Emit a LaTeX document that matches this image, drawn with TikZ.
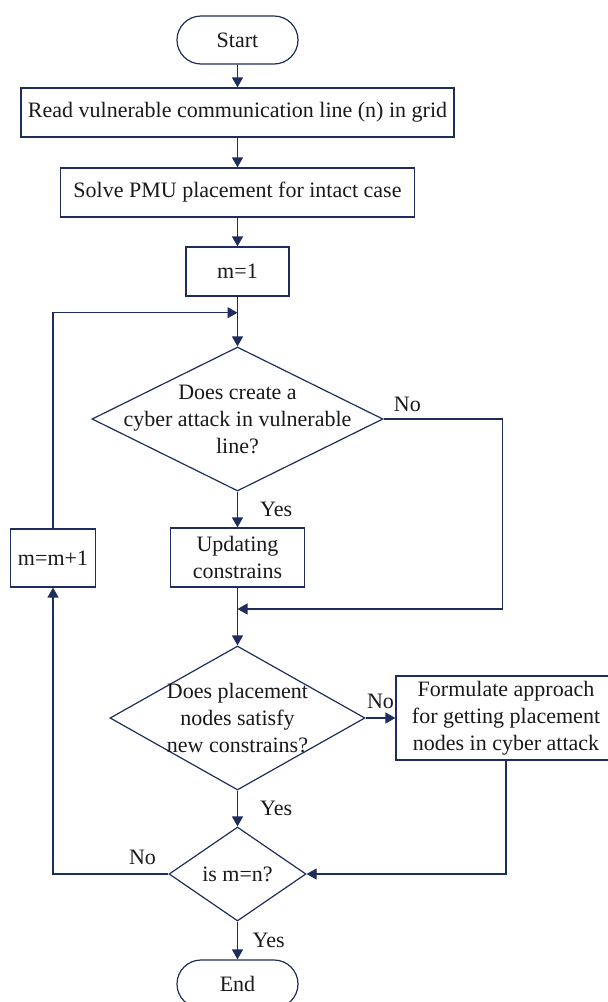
\documentclass[tikz,border=0pt]{standalone}
\usepackage{fontspec}
\setmainfont{Liberation Serif}
\usetikzlibrary{arrows.meta,shapes.geometric}
\definecolor{navyline}{RGB}{31,45,94}
\definecolor{tinta}{RGB}{25,25,25}
\tikzset{
  terminal/.style={
    rounded corners=24pt,
    draw=navyline,
    line width=1.2pt,
    minimum width=121pt,
    minimum height=48pt,
    inner sep=0pt
  },
  bloque/.style={
    draw=navyline,
    line width=1.2pt,
    align=center,
    inner sep=0pt
  },
  decision/.style={
    diamond,
    draw=navyline,
    line width=1.2pt,
    inner sep=0pt
  },
  etiqueta/.style={
    align=center,
    text=tinta,
    inner sep=0pt
  },
  arrow/.style={
    -{Triangle[length=10pt,width=11pt]},
    line width=1.2pt,
    navyline
  }
}
\begin{document}
\begin{tikzpicture}[x=1pt,y=-1pt,font=\fontsize{22}{27}\selectfont,text=tinta]
\clip (0,0) rectangle (608,1002);
\node[terminal] (start) at (237.5,40) {Start};
\node[bloque,minimum width=433pt,minimum height=49pt] (read) at (237.5,112.5) {Read vulnerable communication line (n) in grid};
\node[bloque,minimum width=354pt,minimum height=49pt] (solve) at (237.5,192.5) {Solve PMU placement for intact case};
\node[bloque,minimum width=103pt,minimum height=49pt] (m1) at (237.5,271.5) {m=1};
\node[decision,minimum width=291pt,minimum height=144pt,label={[etiqueta]center:{Does create a\\cyber attack in vulnerable\\line?}}] (q1) at (237.5,419) {};
\node[bloque,minimum width=134pt,minimum height=59pt] (upd) at (237.5,557.5) {Updating\\constrains};
\node[bloque,minimum width=85pt,minimum height=58pt] (inc) at (53,558) {m=m+1};
\node[decision,minimum width=255pt,minimum height=144pt,label={[etiqueta]center:{Does placement\\nodes satisfy\\new constrains?}}] (q2) at (237.5,718) {};
\node[bloque,minimum width=220pt,minimum height=84pt] (form) at (506,718) {Formulate approach\\for getting placement\\nodes in cyber attack};
\node[decision,minimum width=137pt,minimum height=94pt] (q3) at (237.5,874) {is m=n?};
\node[terminal] (fin) at (237.5,984) {End};
\coordinate (j1) at (237.5,312.7);
\coordinate (j2) at (237.5,609);
\draw[arrow] (start) -- (read);
\draw[arrow] (read) -- (solve);
\draw[arrow] (solve) -- (m1);
\draw[arrow] (m1) -- (q1);
\draw[arrow] (q1) -- node[etiqueta,right=22pt]{Yes} (upd);
\draw[arrow] (q1.east) -- node[etiqueta,pos=0.2,above=7pt]{No} ++(119,0) |- (j2);
\draw[arrow] (upd) -- (q2);
\draw[arrow] (q2) -- node[etiqueta,above=9pt]{No} (form);
\draw[arrow] (q2) -- node[etiqueta,right=22pt]{Yes} (q3);
\draw[arrow] (form.south) |- (q3.east);
\draw[arrow] (q3.west) -| node[etiqueta,pos=0.112,above=9pt]{No} (inc.south);
\draw[arrow] (inc.north) |- (j1);
\draw[arrow] (q3) -- node[etiqueta,right=14.5pt]{Yes} (fin);
\end{tikzpicture}
\end{document}
